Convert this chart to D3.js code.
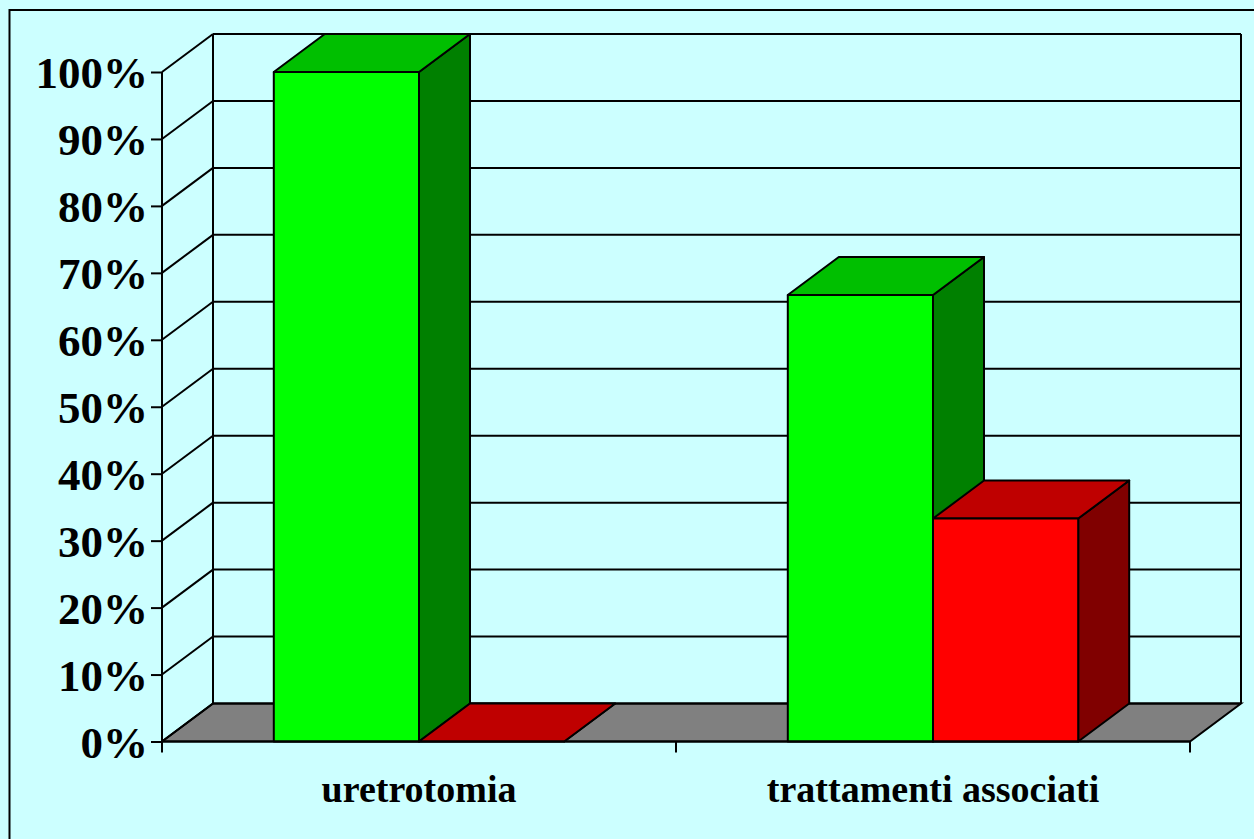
<!DOCTYPE html>
<html>
<head>
<meta charset="utf-8">
<script src="https://d3js.org/d3.v7.min.js"></script>
<style>
body { margin: 0; background: #ccffff; }
svg { display: block; }
text { font-family: "Liberation Serif", "Times New Roman", serif; font-weight: bold; fill: #000; }
</style>
</head>
<body>
<svg id="chart" width="1254" height="839"></svg>
<script>
// data
var categories = ["uretrotomia", "trattamenti associati"];
var seriesNames = ["serie1", "serie2"];
var greenValues = [100, 66.7];
var redValues = [0, 33.3];
var yTicks = [0, 10, 20, 30, 40, 50, 60, 70, 80, 90, 100];

var faceColors = {
  serie1: { front: "#00ff00", top: "#00bf00", side: "#008000" },
  serie2: { front: "#ff0000", top: "#bf0000", side: "#800000" }
};

var plotLeft = 162, plotRight = 1190, plotBottom = 741.5, plotTop = 72;
var dx = 51, dy = -38; // depth of the 3d box

var svg = d3.select("#chart");

// frame
svg.append("rect")
  .attr("x", 9.5).attr("y", 10).attr("width", 1300).attr("height", 900)
  .attr("fill", "#ccffff").attr("stroke", "#000").attr("stroke-width", 2);

var x0 = d3.scaleBand().domain(categories).range([plotLeft, plotRight]);
var bw = x0.bandwidth();
var groupW = bw * 0.565;
var x1 = d3.scaleBand().domain(seriesNames)
  .range([(bw - groupW) / 2, (bw + groupW) / 2]);

var y = d3.scaleLinear().domain([0, 100]).range([plotBottom, plotTop]);

function pts(a) { return a.map(function(p) { return p.join(","); }).join(" "); }

// floor
svg.append("polygon")
  .attr("points", pts([[plotLeft, plotBottom], [plotRight, plotBottom], [plotRight + dx, plotBottom + dy], [plotLeft + dx, plotBottom + dy]]))
  .attr("fill", "#808080").attr("stroke", "#000").attr("stroke-width", 2);

// back wall + side wall grid
var grid = svg.append("g").attr("stroke", "#000").attr("stroke-width", 2).attr("fill", "none");
grid.selectAll(".bg").data(yTicks).enter().append("line")
  .attr("x1", plotLeft + dx).attr("x2", plotRight + dx)
  .attr("y1", function(d) { return y(d) + dy; })
  .attr("y2", function(d) { return y(d) + dy; });
grid.selectAll(".sg").data(yTicks).enter().append("line")
  .attr("x1", plotLeft).attr("x2", plotLeft + dx)
  .attr("y1", function(d) { return y(d); })
  .attr("y2", function(d) { return y(d) + dy; });
grid.append("line")
  .attr("x1", plotLeft + dx).attr("x2", plotLeft + dx)
  .attr("y1", y(100) + dy).attr("y2", y(0) + dy);
grid.append("line")
  .attr("x1", plotRight + dx).attr("x2", plotRight + dx)
  .attr("y1", y(100) + dy).attr("y2", y(0) + dy);

// bars
var rows = [];
categories.forEach(function(c, i) {
  rows.push({ cat: c, s: "serie1", v: greenValues[i] });
  rows.push({ cat: c, s: "serie2", v: redValues[i] });
});

var bars = svg.append("g").selectAll("g").data(rows).enter().append("g")
  .attr("stroke", "#000").attr("stroke-width", 2).attr("stroke-linejoin", "round");

bars.each(function(d) {
  var g = d3.select(this);
  var xa = x0(d.cat) + x1(d.s), xb = xa + x1.bandwidth();
  var yt = y(d.v), yb = y(0);
  var col = faceColors[d.s];
  g.append("polygon")
    .attr("points", pts([[xb, yb], [xb + dx, yb + dy], [xb + dx, yt + dy], [xb, yt]]))
    .attr("fill", col.side);
  g.append("polygon")
    .attr("points", pts([[xa, yt], [xb, yt], [xb + dx, yt + dy], [xa + dx, yt + dy]]))
    .attr("fill", col.top);
  g.append("rect")
    .attr("x", xa).attr("y", yt).attr("width", xb - xa).attr("height", yb - yt)
    .attr("fill", col.front);
});

// y axis
var yAxis = svg.append("g")
  .attr("transform", "translate(" + plotLeft + ",0)")
  .call(d3.axisLeft(y).tickValues(yTicks).tickSize(11).tickPadding(3)
    .tickFormat(function(d) { return d + "%"; }));
yAxis.select(".domain").attr("stroke-width", 2).attr("d", "M0," + y(100) + "V" + (plotBottom + 10));
yAxis.selectAll(".tick line").attr("stroke-width", 2);
yAxis.selectAll("text").style("font-size", "45px").attr("dy", "0.35em");

// x axis
var xAxis = svg.append("g")
  .attr("transform", "translate(0," + plotBottom + ")")
  .call(d3.axisBottom(x0).tickSize(0).tickPadding(34));
xAxis.select(".domain").attr("stroke-width", 2).attr("d", "M" + plotLeft + ",0H" + plotRight);
xAxis.selectAll("text").style("font-size", "38px");
var bounds = categories.map(function(c) { return x0(c); }).concat([plotRight]);
xAxis.selectAll(".bt").data(bounds).enter().append("line")
  .attr("x1", function(d) { return d; }).attr("x2", function(d) { return d; })
  .attr("y1", 0).attr("y2", 11)
  .attr("stroke", "#000").attr("stroke-width", 2);
</script>
</body>
</html>
